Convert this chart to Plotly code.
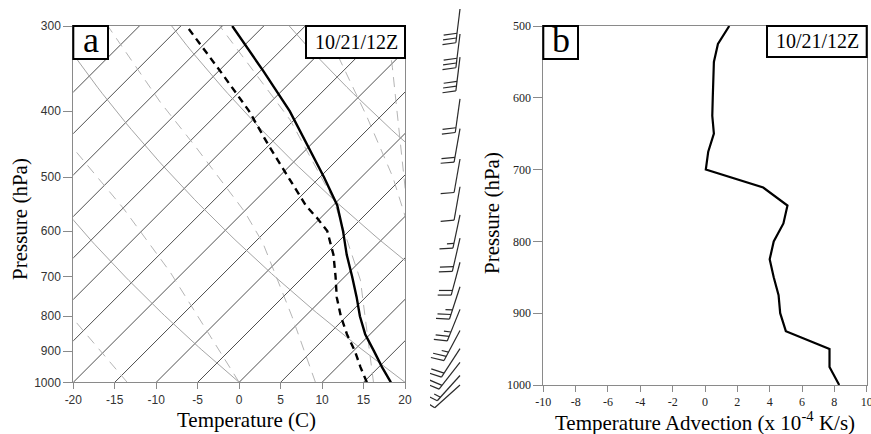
import numpy as np
import plotly.graph_objects as go

W, H = 871, 434

# ---------------- data: panel a (sounding) ----------------
sound_p = [1000, 950, 900, 850, 800, 750, 700, 650, 600, 550, 500, 450, 400, 350, 300]
temp_c = [18.3, 15.4, 12.5, 9.4, 6.6, 3.9, 0.9, -2.4, -5.7, -9.5, -14.5, -20.2, -26.6, -34.5, -43.8]
dew_p = [1000, 950, 900, 850, 800, 750, 700, 650, 600, 575, 550, 500, 450, 400, 350, 300]
dewpt_c = [15.4, 12.8, 10.2, 7.2, 4.3, 1.5, -1.1, -4.0, -7.6, -10.3, -13.3, -18.8, -24.9, -31.5, -39.7, -49.3]

# wind barbs
wind_p = [300, 325, 350, 400, 440, 485, 530, 580, 625, 675, 730, 785, 840, 890, 930, 970, 1000]
wind_kt = [30, 30, 30, 20, 20, 10, 10, 15, 20, 20, 25, 25, 25, 20, 20, 15, 10]
wind_dir = [187, 187, 187, 188, 190, 190, 190, 192, 193, 195, 198, 202, 208, 213, 218, 222, 228]

# background: isotherms, dry adiabats (theta, C), moist adiabats
isotherms = list(range(-60, 25, 5))
dry_theta = [-20, 0, 20, 40, 60, 80]
moist_lines = [
    ([1000, 750], [-13.5, -32.5]),
    ([1000, 688, 555, 453, 420], [0.0, -21.7, -35.0, -48.3, -53.5]),
    ([1000, 800, 625, 562, 453, 388, 300], [9.2, -1.6, -13.9, -19.9, -33.4, -43.3, -58.8]),
    ([1000, 708, 540, 412, 300], [16.2, 2.3, -10.6, -25.5, -45.3]),
    ([650, 568, 500, 407, 329, 300], [6.1, -0.2, -6.2, -16.7, -27.9, -32.5]),
    ([550, 450, 345, 300], [-1.1, -9.0, -19.5, -25.2]),
]

# tick labels
a_xticks = [-20, -15, -10, -5, 0, 5, 10, 15, 20]
a_yticks = [300, 400, 500, 600, 700, 800, 900, 1000]
b_xticks = [-10, -8, -6, -4, -2, 0, 2, 4, 6, 8, 10]
b_yticks = [500, 600, 700, 800, 900, 1000]

# ---------------- data: panel b (temperature advection) ----------------
adv_p = [500, 525, 550, 575, 600, 625, 650, 675, 700, 725, 750, 775, 800, 825, 850, 875, 900, 925, 950, 975, 1000]
adv_val = [1.5, 0.8, 0.55, 0.5, 0.48, 0.45, 0.55, 0.2, 0.05, 3.6, 5.1, 4.85, 4.25, 4.0, 4.25, 4.55, 4.65, 5.0, 7.7, 7.7, 8.3]

# ---------------- geometry (pixels) ----------------
AX0, AX1, AY0, AY1 = 73.3, 405.0, 26.0, 382.3     # panel a plot area
BX0, BX1, BY0, BY1 = 543.3, 866.7, 26.0, 385.0    # panel b plot area
WX0, WX1 = 430.0, 520.0                            # wind barb column (x)
WY_TOP, WY_1000 = 9.0, 385.0                       # barb column: 300 hPa / 1000 hPa rows

def px(v):
    return v / W

def py(v):
    return 1 - v / H

# skew so that isotherms are at 45 degrees on screen
SKEW = ((AY1 - AY0) / np.log(1000 / 300)) / ((AX1 - AX0) / 40.0)

def skew_x(t, p):
    return np.asarray(t, float) + SKEW * np.log(1000.0 / np.asarray(p, float))

fig = go.Figure()

# isotherms
for t0 in isotherms:
    pp = np.array([1000.0, 280.0])
    fig.add_trace(go.Scatter(x=t0 + SKEW * np.log(1000 / pp), y=pp, mode="lines",
                             line=dict(color="#3a3a3a", width=0.9), hoverinfo="skip",
                             showlegend=False, xaxis="x", yaxis="y"))
# dry adiabats
pp = np.linspace(1000, 280, 90)
for th in dry_theta:
    tt = (th + 273.15) * (pp / 1000.0) ** 0.2857 - 273.15
    fig.add_trace(go.Scatter(x=skew_x(tt, pp), y=pp, mode="lines",
                             line=dict(color="#9a9a9a", width=0.9), hoverinfo="skip",
                             showlegend=False, xaxis="x", yaxis="y"))
# moist adiabats
for mp, mt in moist_lines:
    fig.add_trace(go.Scatter(x=skew_x(mt, mp), y=mp, mode="lines",
                             line=dict(color="#ababab", width=0.9, dash="10px,7px"),
                             hoverinfo="skip", showlegend=False, xaxis="x", yaxis="y"))

# temperature and dew point
fig.add_trace(go.Scatter(x=skew_x(temp_c, sound_p), y=sound_p, mode="lines",
                         line=dict(color="black", width=2.4), showlegend=False,
                         xaxis="x", yaxis="y"))
fig.add_trace(go.Scatter(x=skew_x(dewpt_c, dew_p), y=dew_p, mode="lines",
                         line=dict(color="black", width=2.4, dash="7px,5px"), showlegend=False,
                         xaxis="x", yaxis="y"))

# temperature advection
fig.add_trace(go.Scatter(x=adv_val, y=adv_p, mode="lines",
                         line=dict(color="black", width=2.2), showlegend=False,
                         xaxis="x2", yaxis="y2"))

# wind barbs (x in pixel units on a hidden axis, y on hidden log-pressure axis)
PX_PER_LN = (WY_1000 - WY_TOP) / np.log(1000 / 300)
LOG_BOTTOM = 3 + (H - WY_1000) / PX_PER_LN / np.log(10)   # log10 p at figure bottom
STAFF = 34.0
bx, by = [], []
x_st = 460.0
for p, spd, d in zip(wind_p, wind_kt, wind_dir):
    r = np.deg2rad(d)
    sx, sy = np.sin(r), -np.cos(r)          # screen vector (y down)
    ex, ey = x_st + STAFF * sx, STAFF * sy
    bx += [x_st, ex, None]
    by += [p, p * np.exp(ey / PX_PER_LN), None]
    perp = np.array([-sy, sx])
    a = np.deg2rad(15)
    f = np.cos(a) * perp + np.sin(a) * np.array([sx, sy])
    n_full, half = spd // 10, (spd % 10) >= 5
    k = 0
    for i in range(n_full + (1 if half else 0)):
        ln_ = 13.5 if i < n_full else 7.0
        ox, oy = ex - 4.8 * k * sx, ey - 4.8 * k * sy
        bx += [ox, ox + ln_ * f[0], None]
        by += [p * np.exp(oy / PX_PER_LN), p * np.exp((oy + ln_ * f[1]) / PX_PER_LN), None]
        k += 1
fig.add_trace(go.Scatter(x=bx, y=by, mode="lines", line=dict(color="#2a2a2a", width=1.2),
                         hoverinfo="skip", showlegend=False, xaxis="x3", yaxis="y3",
                         cliponaxis=False))

axis_common = dict(showgrid=False, zeroline=False, showline=True, mirror=True,
                   linecolor="#8a8a8a", linewidth=1, ticks="outside", tickcolor="#8a8a8a",
                   automargin=False, ticklabeloverflow="allow")

fig.update_layout(
    width=W, height=H, margin=dict(l=0, r=0, t=0, b=0, autoexpand=False),
    paper_bgcolor="white", plot_bgcolor="white", showlegend=False,
    xaxis=dict(domain=[px(AX0), px(AX1)], range=[-20, 20], tickvals=a_xticks,
               ticktext=[str(v) for v in a_xticks],
               ticklen=6, tickfont=dict(family="Liberation Sans", size=12, color="#333333"),
               anchor="y", **axis_common),
    yaxis=dict(domain=[py(AY1), py(AY0)], type="log", range=[3, np.log10(300)],
               tickvals=a_yticks, ticktext=[str(v) for v in a_yticks],
               ticklen=9, tickfont=dict(family="Liberation Sans", size=12, color="#333333"),
               anchor="x", **axis_common),
    xaxis2=dict(domain=[px(BX0), px(BX1)], range=[-10, 10], tickvals=b_xticks,
                ticktext=[str(v) for v in b_xticks],
                ticklen=6, tickfont=dict(family="Liberation Serif", size=12, color="#222222"),
                anchor="y2", **axis_common),
    yaxis2=dict(domain=[py(BY1), py(BY0)], range=[1000, 500],
                tickvals=b_yticks, ticktext=[str(v) for v in b_yticks],
                ticklen=9, tickfont=dict(family="Liberation Serif", size=12, color="#222222"),
                anchor="x2", **axis_common),
    xaxis3=dict(domain=[px(WX0), px(WX1)], range=[WX0, WX1], visible=False, anchor="y3",
                automargin=False),
    yaxis3=dict(domain=[0, py(WY_TOP)], type="log", range=[LOG_BOTTOM, np.log10(300)],
                visible=False, anchor="x3", automargin=False),
)

# label boxes
boxes = [(73.3, 26, 108, 59), (306, 26, 405, 58), (543.3, 26, 578, 59), (767, 26, 866.7, 57)]
for x0, y0, x1, y1 in boxes:
    fig.add_shape(type="rect", xref="paper", yref="paper", x0=px(x0), x1=px(x1),
                  y0=py(y1), y1=py(y0), line=dict(color="black", width=2), fillcolor="white",
                  layer="above")

serif = "Liberation Serif"
ann = [
    ("a", 90.7, 40, 36),
    ("b", 560.7, 40, 36),
    ("10/21/12Z", 356, 42, 20),
    ("10/21/12Z", 817, 41, 20),
    ("Temperature (C)", 246, 420, 21),
    ("Temperature Advection (x 10<sup>-4</sup> K/s)", 705, 421, 21),
]
for txt, x, y, s in ann:
    fig.add_annotation(text=txt, x=px(x), y=py(y), xref="paper", yref="paper",
                       xanchor="center", yanchor="middle", showarrow=False,
                       font=dict(family=serif, size=s, color="black"))
for x, y in [(20, 219), (492, 213)]:
    fig.add_annotation(text="Pressure (hPa)", x=px(x), y=py(y), xref="paper", yref="paper",
                       xanchor="center", yanchor="middle", showarrow=False, textangle=-90,
                       font=dict(family=serif, size=21, color="black"))

fig.write_html("out.html", config={"displayModeBar": False},
               post_script="document.body.style.margin='0px';document.body.style.overflow='hidden';")
